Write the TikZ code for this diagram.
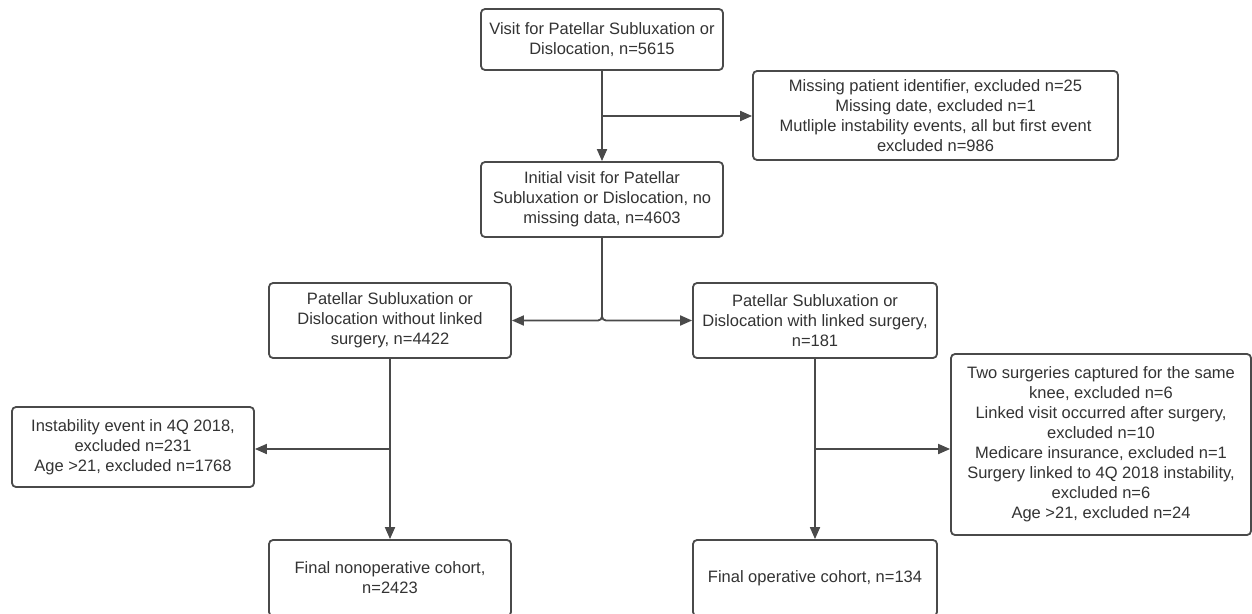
\documentclass[tikz,border=0pt]{standalone}
\usepackage{fontspec}
\setmainfont{Liberation Sans}
\usetikzlibrary{arrows.meta}
\definecolor{ln}{HTML}{4A4A4A}
\definecolor{tx}{HTML}{333333}
\begin{document}
\begin{tikzpicture}[x=1pt,y=-1pt,
  box/.style={draw=ln,line width=1.8pt,rounded corners=4pt,fill=white,align=center,
    text=tx,inner sep=0pt,font=\fontsize{16.5}{20}\selectfont},
  conn/.style={draw=ln,line width=1.8pt},
  arr/.style={conn,-{Triangle[length=12pt,width=10pt]}}]
\clip (0,0) rectangle (1252,613);
\fill[white] (0,0) rectangle (1252,613);
\node[box,minimum width=242pt,minimum height=61pt] (v1) at (602,39.5)
  {Visit for Patellar Subluxation or\\Dislocation, n=5615};
\node[box,minimum width=365pt,minimum height=89pt] (ex1) at (935.5,115.5)
  {Missing patient identifier, excluded n=25\\Missing date, excluded n=1\\Mutliple instability events, all but first event\\excluded n=986};
\node[box,minimum width=242pt,minimum height=75pt] (v2) at (602,199.5)
  {Initial visit for Patellar\\Subluxation or Dislocation, no\\missing data, n=4603};
\node[box,minimum width=242pt,minimum height=75pt] (L) at (390,320.5)
  {Patellar Subluxation or\\Dislocation without linked\\surgery, n=4422};
\node[box,minimum width=244pt,minimum height=75pt] (R) at (815,320.5)
  {Patellar Subluxation or\\Dislocation with linked surgery,\\n=181};
\node[box,minimum width=242pt,minimum height=80pt] (exL) at (133,447)
  {Instability event in 4Q 2018,\\excluded n=231\\Age >21, excluded n=1768};
\node[box,minimum width=300pt,minimum height=181pt] (exR) at (1101,444.5)
  {Two surgeries captured for the same\\knee, excluded n=6\\Linked visit occurred after surgery,\\excluded n=10\\Medicare insurance, excluded n=1\\Surgery linked to 4Q 2018 instability,\\excluded n=6\\Age >21, excluded n=24};
\node[box,minimum width=242pt,minimum height=76pt] (fL) at (390,578)
  {Final nonoperative cohort,\\n=2423};
\node[box,minimum width=244pt,minimum height=76pt] (fR) at (815,578)
  {Final operative cohort, n=134};
% connectors
\draw[arr] (v1.south) -- (v2.north);
\coordinate (b1) at (602,116);
\draw[arr] (b1) -- (ex1.west |- b1);
\draw[arr,rounded corners=4pt] (v2.south) |- (L.east);
\draw[arr,rounded corners=4pt] (v2.south) |- (R.west);
\draw[arr] (L.south) -- (fL.north);
\coordinate (b2) at (390,449);
\draw[arr] (b2) -- (exL.east |- b2);
\draw[arr] (R.south) -- (fR.north);
\coordinate (b3) at (815,449);
\draw[arr] (b3) -- (exR.west |- b3);
\end{tikzpicture}
\end{document}
